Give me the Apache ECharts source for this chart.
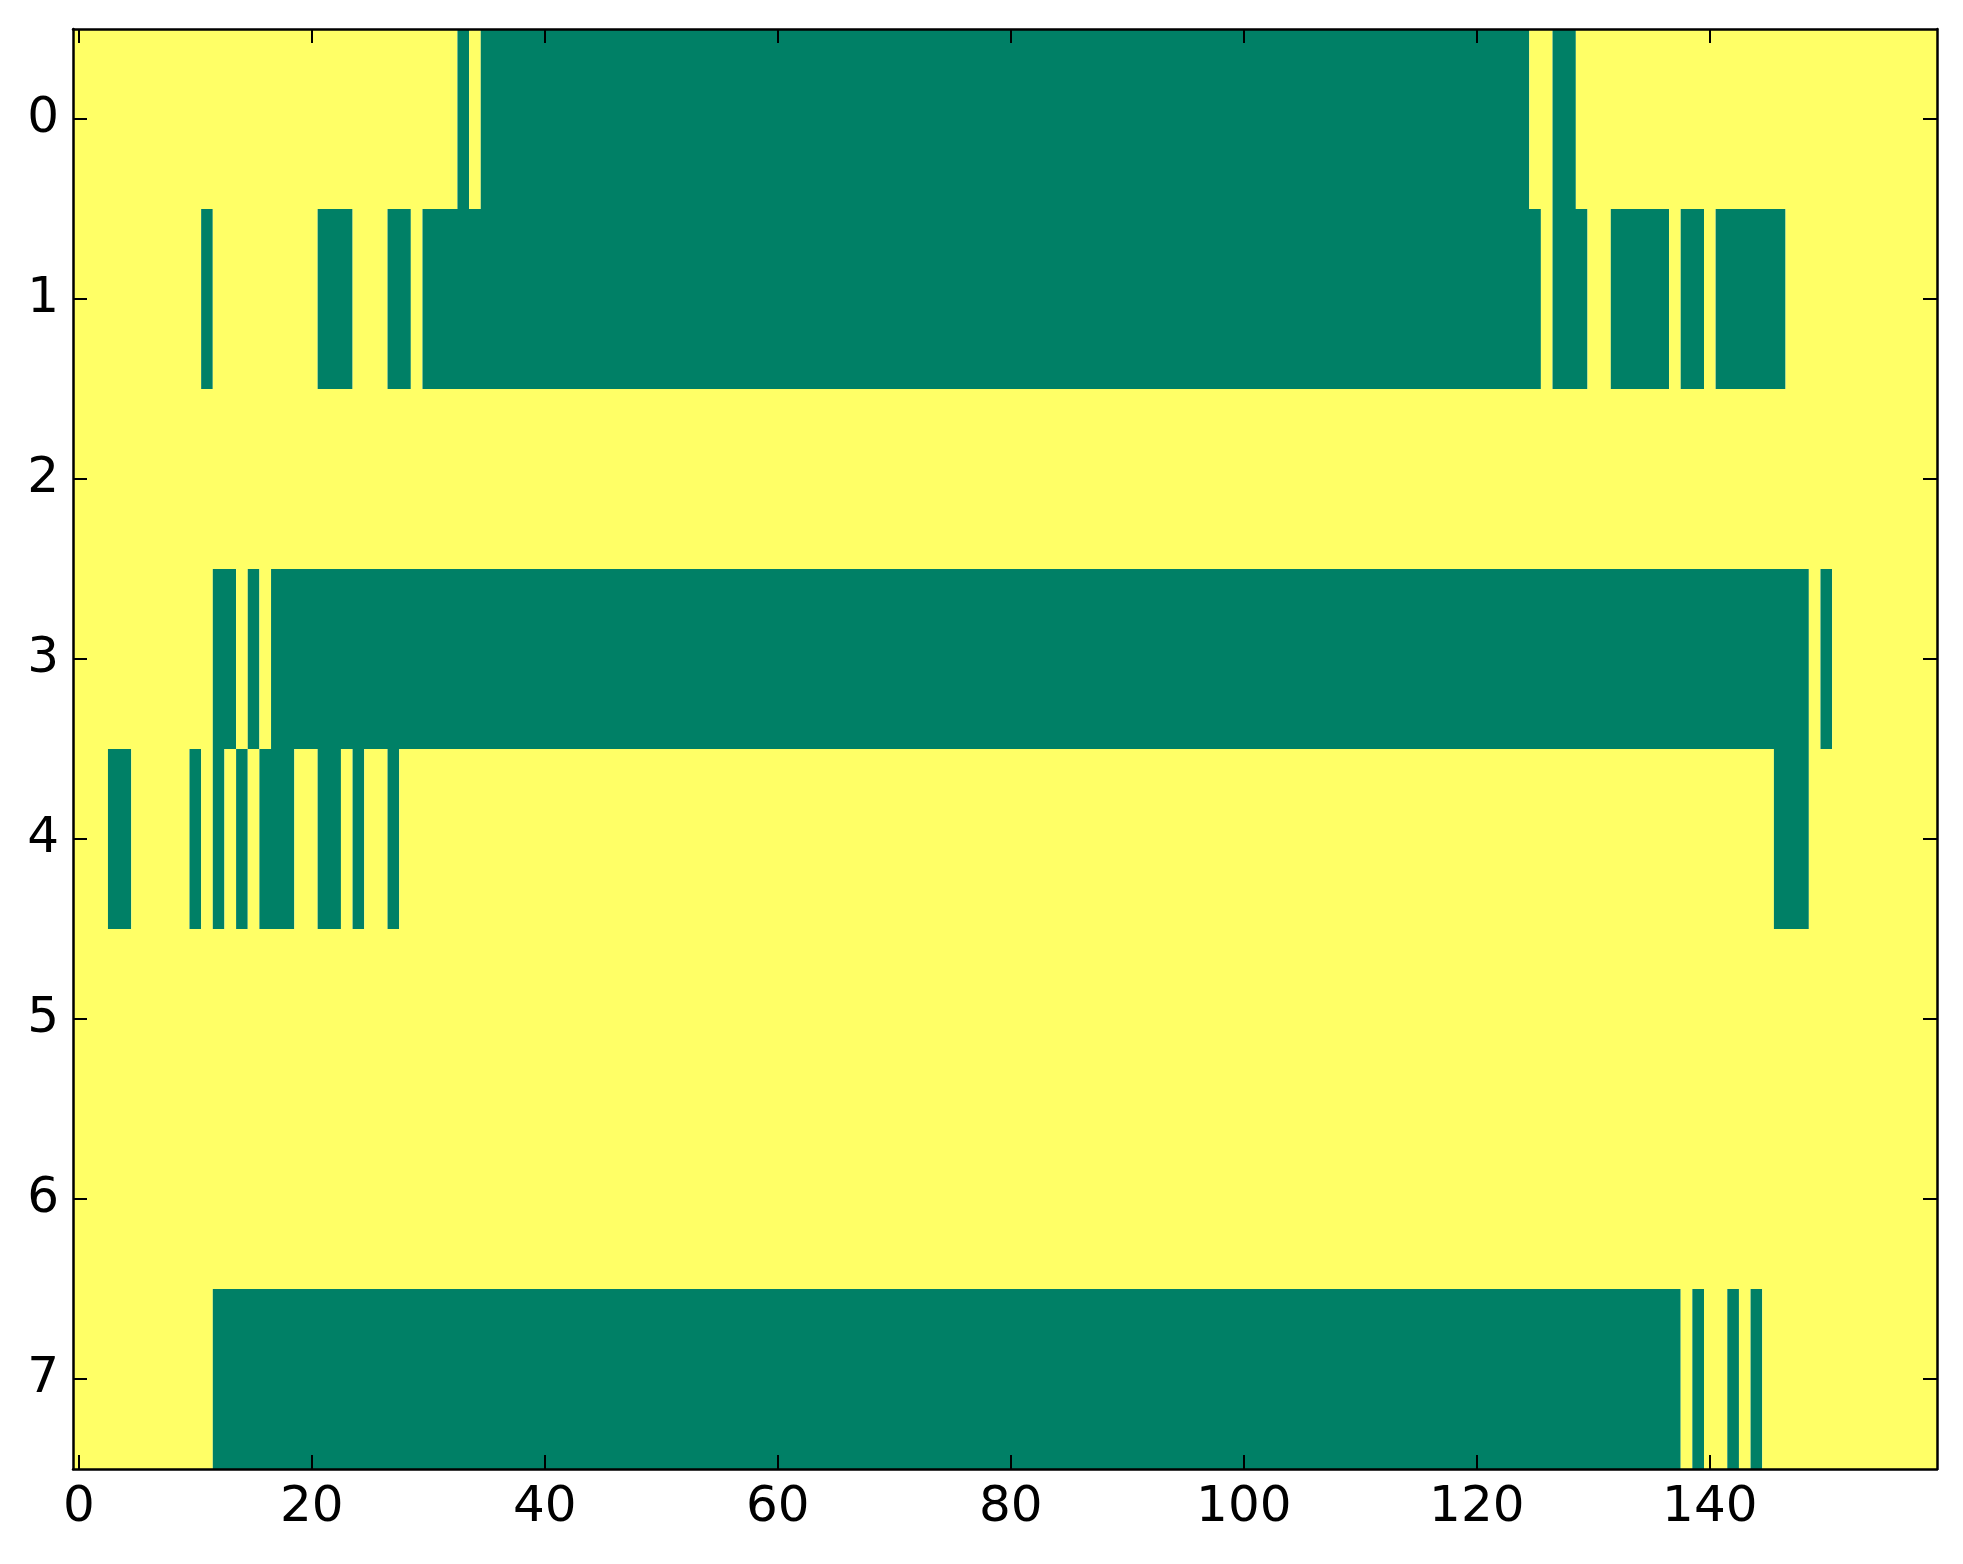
<!DOCTYPE html>
<html>
<head>
<meta charset="utf-8">
<script src="https://cdn.jsdelivr.net/npm/echarts@6/dist/echarts.min.js"></script>
<style>
html,body{margin:0;padding:0;background:#fff;}
#main{width:1963px;height:1564px;}
</style>
</head>
<body>
<div id="main"></div>
<script>
// Column count and row labels
const columnCount = 160;
const rowLabels = ['0','1','2','3','4','5','6','7'];
const xTickStep = 20;

// Runs of "low" (green) cells per row, as [firstColumn, lastColumn]; all other cells are "high" (yellow)
const lowRunsRow0 = [[33,33],[35,124],[127,128]];
const lowRunsRow1 = [[11,11],[21,23],[27,28],[30,125],[127,129],[132,136],[138,139],[141,146]];
const lowRunsRow2 = [];
const lowRunsRow3 = [[12,13],[15,15],[17,148],[150,150]];
const lowRunsRow4 = [[3,4],[10,10],[12,12],[14,14],[16,18],[21,22],[24,24],[27,27],[146,148]];
const lowRunsRow5 = [];
const lowRunsRow6 = [];
const lowRunsRow7 = [[12,137],[139,139],[142,142],[144,144]];
const lowRunsByRow = [lowRunsRow0,lowRunsRow1,lowRunsRow2,lowRunsRow3,lowRunsRow4,lowRunsRow5,lowRunsRow6,lowRunsRow7];

const lowColor = '#008066';
const highColor = '#ffff66';

const xCategories = [];
for (let i = 0; i < columnCount; i++) xCategories.push(String(i));

// Build full cell values per row, then merge into runs [start, end, row, value]
const runs = [];
lowRunsByRow.forEach((lowRuns, r) => {
  const vals = [];
  for (let c = 0; c < columnCount; c++) {
    vals.push(lowRuns.some(([a, b]) => c >= a && c <= b) ? 0 : 1);
  }
  let start = 0;
  for (let c = 1; c <= columnCount; c++) {
    if (c === columnCount || vals[c] !== vals[start]) {
      runs.push([start, c - 1, r, vals[start]]);
      start = c;
    }
  }
});

const chart = echarts.init(document.getElementById('main'), null, {renderer: 'canvas'});
const fontBase = {fontFamily: 'DejaVu Sans', fontSize: 50, color: '#000'};
const lineStyle = {color: '#000', width: 2.5};
const tickStyle = {color: '#000', width: 2};
const showEvery = (idx) => idx % xTickStep === 0;

chart.setOption({
  animation: false,
  backgroundColor: '#fff',
  grid: {left: 73, top: 29, right: 26, bottom: 95, outerBoundsMode: 'none', containLabel: false},
  xAxis: [
    {
      type: 'category', data: xCategories, position: 'bottom', z: 10,
      axisLine: {show: true, lineStyle: lineStyle, onZero: false},
      axisTick: {show: true, inside: true, length: 14, alignWithLabel: true, interval: showEvery, lineStyle: tickStyle},
      axisLabel: Object.assign({show: true, interval: showEvery, margin: 14}, fontBase),
      splitLine: {show: false}
    },
    {
      type: 'category', data: xCategories, position: 'top', z: 10,
      axisLine: {show: true, lineStyle: lineStyle, onZero: false},
      axisTick: {show: true, inside: true, length: 14, alignWithLabel: true, interval: showEvery, lineStyle: tickStyle},
      axisLabel: {show: false},
      splitLine: {show: false}
    }
  ],
  yAxis: [
    {
      type: 'category', data: rowLabels, inverse: true, position: 'left', z: 10,
      axisLine: {show: true, lineStyle: lineStyle, onZero: false},
      axisTick: {show: true, inside: true, length: 14, alignWithLabel: true, lineStyle: tickStyle},
      axisLabel: Object.assign({show: true, margin: 14}, fontBase),
      splitLine: {show: false}
    },
    {
      type: 'category', data: rowLabels, inverse: true, position: 'right', z: 10,
      axisLine: {show: true, lineStyle: lineStyle, onZero: false},
      axisTick: {show: true, inside: true, length: 14, alignWithLabel: true, lineStyle: tickStyle},
      axisLabel: {show: false},
      splitLine: {show: false}
    }
  ],
  series: [{
    type: 'custom', xAxisIndex: 0, yAxisIndex: 0, z: 1,
    data: runs,
    encode: {x: [0, 1], y: 2},
    silent: true,
    renderItem: function (params, api) {
      const s = api.value(0), e = api.value(1), r = api.value(2), v = api.value(3);
      const p = api.coord([s, r]);
      const size = api.size([1, 1]);
      return {
        type: 'rect',
        shape: {x: p[0] - size[0] / 2, y: p[1] - size[1] / 2, width: (e - s + 1) * size[0], height: size[1]},
        style: {fill: v === 0 ? lowColor : highColor, stroke: null}
      };
    }
  }]
});
</script>
</body>
</html>
